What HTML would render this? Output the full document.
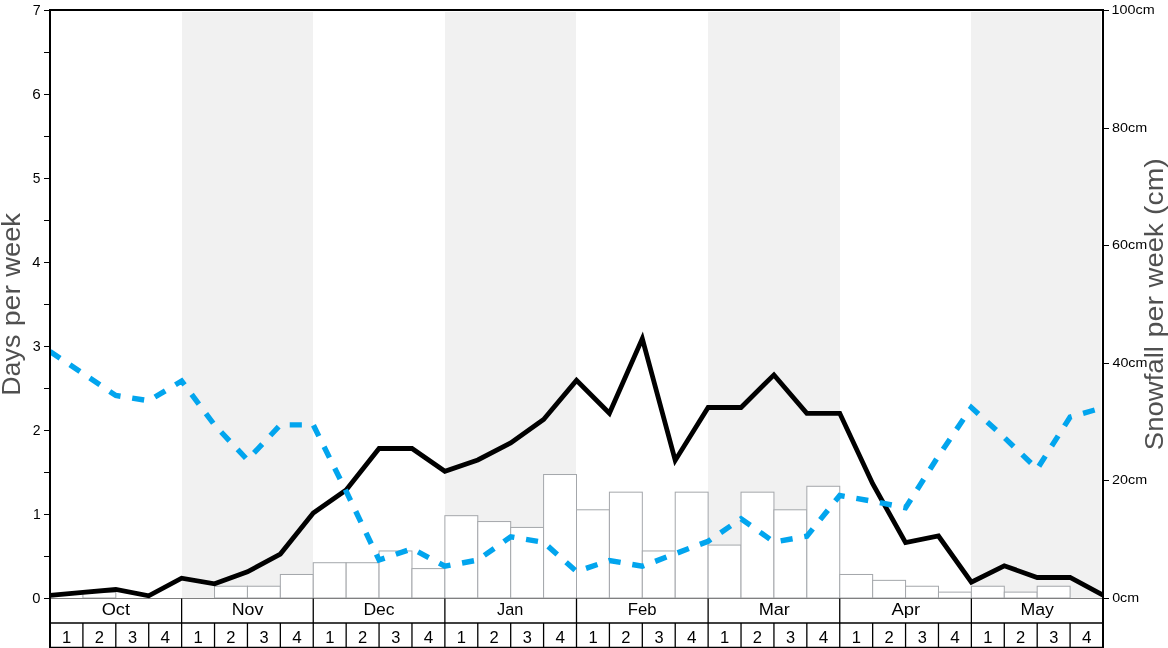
<!DOCTYPE html>
<html><head><meta charset="utf-8"><title>Snowfall chart</title>
<style>html,body{margin:0;padding:0;background:#fff;}svg{display:block;}text{font-family:"Liberation Sans",sans-serif;}</style>
</head><body>
<svg width="1168" height="648" viewBox="0 0 1168 648">
<rect x="0" y="0" width="1168" height="648" fill="#ffffff"/>
<g fill="#f1f1f1">
<rect x="182" y="12" width="131" height="586.5"/>
<rect x="445" y="12" width="131" height="586.5"/>
<rect x="708" y="12" width="132" height="586.5"/>
<rect x="971" y="12" width="130" height="586.5"/>
</g>
<g fill="#ffffff" stroke="#a4a7ab" stroke-width="1">
<rect x="82.91" y="592.12" width="32.91" height="5.88"/>
<rect x="214.53" y="586.24" width="32.91" height="11.76"/>
<rect x="247.44" y="586.24" width="32.91" height="11.76"/>
<rect x="280.34" y="574.48" width="32.91" height="23.52"/>
<rect x="313.25" y="562.72" width="32.91" height="35.28"/>
<rect x="346.16" y="562.72" width="32.91" height="35.28"/>
<rect x="379.06" y="550.96" width="32.91" height="47.04"/>
<rect x="411.97" y="568.60" width="32.91" height="29.40"/>
<rect x="444.88" y="515.68" width="32.91" height="82.32"/>
<rect x="477.78" y="521.56" width="32.91" height="76.44"/>
<rect x="510.69" y="527.44" width="32.91" height="70.56"/>
<rect x="543.59" y="474.52" width="32.91" height="123.48"/>
<rect x="576.50" y="509.80" width="32.91" height="88.20"/>
<rect x="609.41" y="492.16" width="32.91" height="105.84"/>
<rect x="642.31" y="550.96" width="32.91" height="47.04"/>
<rect x="675.22" y="492.16" width="32.91" height="105.84"/>
<rect x="708.12" y="545.08" width="32.91" height="52.92"/>
<rect x="741.03" y="492.16" width="32.91" height="105.84"/>
<rect x="773.94" y="509.80" width="32.91" height="88.20"/>
<rect x="806.84" y="486.28" width="32.91" height="111.72"/>
<rect x="839.75" y="574.48" width="32.91" height="23.52"/>
<rect x="872.66" y="580.36" width="32.91" height="17.64"/>
<rect x="905.56" y="586.24" width="32.91" height="11.76"/>
<rect x="938.47" y="592.12" width="32.91" height="5.88"/>
<rect x="971.38" y="586.24" width="32.91" height="11.76"/>
<rect x="1004.28" y="592.12" width="32.91" height="5.88"/>
<rect x="1037.19" y="586.24" width="32.91" height="11.76"/>
</g>
<line x1="50.00" y1="598.50" x2="1103.00" y2="598.50" stroke="#808080" stroke-width="1"/>
<polyline points="50.00,595.30 82.91,592.30 115.81,589.50 148.72,595.80 181.62,578.20 214.53,583.80 247.44,571.80 280.34,554.00 313.25,513.00 346.16,490.00 379.06,448.50 411.97,448.50 444.88,471.30 477.78,460.00 510.69,443.00 543.59,419.50 576.50,380.40 609.41,413.30 642.31,338.60 675.22,460.40 708.12,407.50 741.03,407.50 773.94,374.90 806.84,413.30 839.75,413.30 872.66,483.75 905.56,542.60 938.47,536.00 971.38,582.25 1004.28,565.75 1037.19,577.50 1070.09,577.50 1103.00,595.20" fill="none" stroke="#000000" stroke-width="4.8" stroke-linejoin="miter" stroke-miterlimit="10"/>
<clipPath id="cb"><rect x="50.00" y="0" width="1047.50" height="648"/></clipPath>
<polyline clip-path="url(#cb)" points="50.00,351.50 82.91,373.50 115.81,395.50 148.72,400.75 181.62,381.00 214.53,425.00 247.44,459.90 280.34,424.90 313.25,424.90 346.16,491.25 379.06,560.00 411.97,548.75 444.88,566.25 477.78,560.00 510.69,536.80 543.59,542.30 576.50,571.50 609.41,560.50 642.31,566.25 675.22,553.75 708.12,541.25 741.03,518.75 773.94,542.00 806.84,536.25 839.75,495.50 872.66,501.25 905.56,507.75 938.47,456.00 971.38,407.50 1004.28,437.50 1037.19,469.00 1070.09,417.00 1103.00,407.60" fill="none" stroke="#02a5ee" stroke-width="5.4" stroke-dasharray="12.1 11.84" stroke-linejoin="miter"/>
<g stroke="#000000" fill="none">
<line x1="181.62" y1="598.50" x2="181.62" y2="648" stroke-width="1.3"/>
<line x1="313.25" y1="598.50" x2="313.25" y2="648" stroke-width="1.3"/>
<line x1="444.88" y1="598.50" x2="444.88" y2="648" stroke-width="1.3"/>
<line x1="576.50" y1="598.50" x2="576.50" y2="648" stroke-width="1.3"/>
<line x1="708.12" y1="598.50" x2="708.12" y2="648" stroke-width="1.3"/>
<line x1="839.75" y1="598.50" x2="839.75" y2="648" stroke-width="1.3"/>
<line x1="971.38" y1="598.50" x2="971.38" y2="648" stroke-width="1.3"/>
<line x1="82.91" y1="623" x2="82.91" y2="648" stroke-width="1.3"/>
<line x1="115.81" y1="623" x2="115.81" y2="648" stroke-width="1.3"/>
<line x1="148.72" y1="623" x2="148.72" y2="648" stroke-width="1.3"/>
<line x1="214.53" y1="623" x2="214.53" y2="648" stroke-width="1.3"/>
<line x1="247.44" y1="623" x2="247.44" y2="648" stroke-width="1.3"/>
<line x1="280.34" y1="623" x2="280.34" y2="648" stroke-width="1.3"/>
<line x1="346.16" y1="623" x2="346.16" y2="648" stroke-width="1.3"/>
<line x1="379.06" y1="623" x2="379.06" y2="648" stroke-width="1.3"/>
<line x1="411.97" y1="623" x2="411.97" y2="648" stroke-width="1.3"/>
<line x1="477.78" y1="623" x2="477.78" y2="648" stroke-width="1.3"/>
<line x1="510.69" y1="623" x2="510.69" y2="648" stroke-width="1.3"/>
<line x1="543.59" y1="623" x2="543.59" y2="648" stroke-width="1.3"/>
<line x1="609.41" y1="623" x2="609.41" y2="648" stroke-width="1.3"/>
<line x1="642.31" y1="623" x2="642.31" y2="648" stroke-width="1.3"/>
<line x1="675.22" y1="623" x2="675.22" y2="648" stroke-width="1.3"/>
<line x1="741.03" y1="623" x2="741.03" y2="648" stroke-width="1.3"/>
<line x1="773.94" y1="623" x2="773.94" y2="648" stroke-width="1.3"/>
<line x1="806.84" y1="623" x2="806.84" y2="648" stroke-width="1.3"/>
<line x1="872.66" y1="623" x2="872.66" y2="648" stroke-width="1.3"/>
<line x1="905.56" y1="623" x2="905.56" y2="648" stroke-width="1.3"/>
<line x1="938.47" y1="623" x2="938.47" y2="648" stroke-width="1.3"/>
<line x1="1004.28" y1="623" x2="1004.28" y2="648" stroke-width="1.3"/>
<line x1="1037.19" y1="623" x2="1037.19" y2="648" stroke-width="1.3"/>
<line x1="1070.09" y1="623" x2="1070.09" y2="648" stroke-width="1.3"/>
<line x1="50.00" y1="623" x2="1103.00" y2="623" stroke-width="1.6"/>
<line x1="50.00" y1="647.6" x2="1103.00" y2="647.6" stroke-width="1.6"/>
<line x1="50.00" y1="9" x2="50.00" y2="648" stroke-width="2"/>
<line x1="1103.00" y1="9" x2="1103.00" y2="648" stroke-width="2"/>
<line x1="49.00" y1="10" x2="1104.00" y2="10" stroke-width="2"/>
<line x1="44" y1="598.50" x2="49" y2="598.50" stroke-width="1"/>
<line x1="44" y1="556.50" x2="49" y2="556.50" stroke-width="1"/>
<line x1="44" y1="514.50" x2="49" y2="514.50" stroke-width="1"/>
<line x1="44" y1="472.50" x2="49" y2="472.50" stroke-width="1"/>
<line x1="44" y1="430.50" x2="49" y2="430.50" stroke-width="1"/>
<line x1="44" y1="388.50" x2="49" y2="388.50" stroke-width="1"/>
<line x1="44" y1="346.50" x2="49" y2="346.50" stroke-width="1"/>
<line x1="44" y1="304.50" x2="49" y2="304.50" stroke-width="1"/>
<line x1="44" y1="262.50" x2="49" y2="262.50" stroke-width="1"/>
<line x1="44" y1="220.50" x2="49" y2="220.50" stroke-width="1"/>
<line x1="44" y1="178.50" x2="49" y2="178.50" stroke-width="1"/>
<line x1="44" y1="136.50" x2="49" y2="136.50" stroke-width="1"/>
<line x1="44" y1="94.50" x2="49" y2="94.50" stroke-width="1"/>
<line x1="44" y1="52.50" x2="49" y2="52.50" stroke-width="1"/>
<line x1="44" y1="10.50" x2="49" y2="10.50" stroke-width="1"/>
<line x1="1104" y1="598.50" x2="1109" y2="598.50" stroke-width="1"/>
<line x1="1104" y1="480.50" x2="1109" y2="480.50" stroke-width="1"/>
<line x1="1104" y1="363.50" x2="1109" y2="363.50" stroke-width="1"/>
<line x1="1104" y1="245.50" x2="1109" y2="245.50" stroke-width="1"/>
<line x1="1104" y1="128.50" x2="1109" y2="128.50" stroke-width="1"/>
<line x1="1104" y1="10.50" x2="1109" y2="10.50" stroke-width="1"/>
</g>
<g opacity="0.999">
<text transform="translate(32.37,603.10) scale(1.0006,1)" font-size="14.73" fill="#000">0</text>
<text transform="translate(32.90,519.10) scale(0.9464,1)" font-size="14.73" fill="#000">1</text>
<text transform="translate(32.85,435.10) scale(0.9531,1)" font-size="14.73" fill="#000">2</text>
<text transform="translate(32.72,351.10) scale(0.9702,1)" font-size="14.73" fill="#000">3</text>
<text transform="translate(32.24,267.10) scale(1.0013,1)" font-size="14.73" fill="#000">4</text>
<text transform="translate(32.86,183.10) scale(0.9367,1)" font-size="14.73" fill="#000">5</text>
<text transform="translate(32.22,99.10) scale(1.0367,1)" font-size="14.73" fill="#000">6</text>
<text transform="translate(32.76,15.10) scale(0.9653,1)" font-size="14.73" fill="#000">7</text>
<text transform="translate(1112.16,602.00) scale(1.0791,1)" font-size="13.25" fill="#000">0cm</text>
<text transform="translate(1112.02,484.40) scale(1.0841,1)" font-size="13.25" fill="#000">20cm</text>
<text transform="translate(1112.43,366.80) scale(1.0810,1)" font-size="13.25" fill="#000">40cm</text>
<text transform="translate(1112.02,249.20) scale(1.0855,1)" font-size="13.25" fill="#000">60cm</text>
<text transform="translate(1112.02,131.60) scale(1.0864,1)" font-size="13.25" fill="#000">80cm</text>
<text transform="translate(1111.62,14.00) scale(1.0846,1)" font-size="13.25" fill="#000">100cm</text>
<text transform="translate(101.66,614.80) scale(1.0543,1)" font-size="17.28" fill="#000">Oct</text>
<text transform="translate(231.64,614.80) scale(1.0316,1)" font-size="17.28" fill="#000">Nov</text>
<text transform="translate(363.43,614.80) scale(1.0170,1)" font-size="17.28" fill="#000">Dec</text>
<text transform="translate(497.01,614.80) scale(0.9417,1)" font-size="17.28" fill="#000">Jan</text>
<text transform="translate(627.66,614.80) scale(0.9687,1)" font-size="17.28" fill="#000">Feb</text>
<text transform="translate(758.64,614.80) scale(1.0521,1)" font-size="17.28" fill="#000">Mar</text>
<text transform="translate(891.53,614.80) scale(1.0701,1)" font-size="17.28" fill="#000">Apr</text>
<text transform="translate(1020.44,614.80) scale(1.0268,1)" font-size="17.28" fill="#000">May</text>
<text transform="translate(61.89,643.10) scale(0.9594,1)" font-size="17.28" fill="#000">1</text>
<text transform="translate(94.68,643.10) scale(0.9579,1)" font-size="17.28" fill="#000">2</text>
<text transform="translate(127.88,643.10) scale(0.9481,1)" font-size="17.28" fill="#000">3</text>
<text transform="translate(160.56,643.10) scale(0.9896,1)" font-size="17.28" fill="#000">4</text>
<text transform="translate(193.51,643.10) scale(0.9594,1)" font-size="17.28" fill="#000">1</text>
<text transform="translate(226.31,643.10) scale(0.9579,1)" font-size="17.28" fill="#000">2</text>
<text transform="translate(259.51,643.10) scale(0.9481,1)" font-size="17.28" fill="#000">3</text>
<text transform="translate(292.19,643.10) scale(0.9896,1)" font-size="17.28" fill="#000">4</text>
<text transform="translate(325.14,643.10) scale(0.9594,1)" font-size="17.28" fill="#000">1</text>
<text transform="translate(357.93,643.10) scale(0.9579,1)" font-size="17.28" fill="#000">2</text>
<text transform="translate(391.13,643.10) scale(0.9481,1)" font-size="17.28" fill="#000">3</text>
<text transform="translate(423.81,643.10) scale(0.9896,1)" font-size="17.28" fill="#000">4</text>
<text transform="translate(456.76,643.10) scale(0.9594,1)" font-size="17.28" fill="#000">1</text>
<text transform="translate(489.56,643.10) scale(0.9579,1)" font-size="17.28" fill="#000">2</text>
<text transform="translate(522.76,643.10) scale(0.9481,1)" font-size="17.28" fill="#000">3</text>
<text transform="translate(555.44,643.10) scale(0.9896,1)" font-size="17.28" fill="#000">4</text>
<text transform="translate(588.39,643.10) scale(0.9594,1)" font-size="17.28" fill="#000">1</text>
<text transform="translate(621.18,643.10) scale(0.9579,1)" font-size="17.28" fill="#000">2</text>
<text transform="translate(654.38,643.10) scale(0.9481,1)" font-size="17.28" fill="#000">3</text>
<text transform="translate(687.06,643.10) scale(0.9896,1)" font-size="17.28" fill="#000">4</text>
<text transform="translate(720.01,643.10) scale(0.9594,1)" font-size="17.28" fill="#000">1</text>
<text transform="translate(752.81,643.10) scale(0.9579,1)" font-size="17.28" fill="#000">2</text>
<text transform="translate(786.01,643.10) scale(0.9481,1)" font-size="17.28" fill="#000">3</text>
<text transform="translate(818.69,643.10) scale(0.9896,1)" font-size="17.28" fill="#000">4</text>
<text transform="translate(851.64,643.10) scale(0.9594,1)" font-size="17.28" fill="#000">1</text>
<text transform="translate(884.43,643.10) scale(0.9579,1)" font-size="17.28" fill="#000">2</text>
<text transform="translate(917.63,643.10) scale(0.9481,1)" font-size="17.28" fill="#000">3</text>
<text transform="translate(950.31,643.10) scale(0.9896,1)" font-size="17.28" fill="#000">4</text>
<text transform="translate(983.26,643.10) scale(0.9594,1)" font-size="17.28" fill="#000">1</text>
<text transform="translate(1016.06,643.10) scale(0.9579,1)" font-size="17.28" fill="#000">2</text>
<text transform="translate(1049.26,643.10) scale(0.9481,1)" font-size="17.28" fill="#000">3</text>
<text transform="translate(1081.94,643.10) scale(0.9896,1)" font-size="17.28" fill="#000">4</text>
<text transform="translate(19.95,395.77) rotate(-90) scale(1.0235,1)" font-size="26.2" fill="#505050">Days</text>
<text transform="translate(19.95,326.26) rotate(-90) scale(1.0877,1)" font-size="26.2" fill="#505050">per</text>
<text transform="translate(19.95,276.73) rotate(-90) scale(1.0426,1)" font-size="26.2" fill="#505050">week</text>
<text transform="translate(1163.00,450.21) rotate(-90) scale(1.0515,1)" font-size="26.2" fill="#505050">Snowfall</text>
<text transform="translate(1163.00,337.38) rotate(-90) scale(1.0962,1)" font-size="26.2" fill="#505050">per</text>
<text transform="translate(1163.00,287.46) rotate(-90) scale(1.0507,1)" font-size="26.2" fill="#505050">week</text>
<text transform="translate(1163.00,214.88) rotate(-90) scale(1.0794,1)" font-size="26.2" fill="#505050">(cm)</text>
</g>
</svg>
</body></html>
